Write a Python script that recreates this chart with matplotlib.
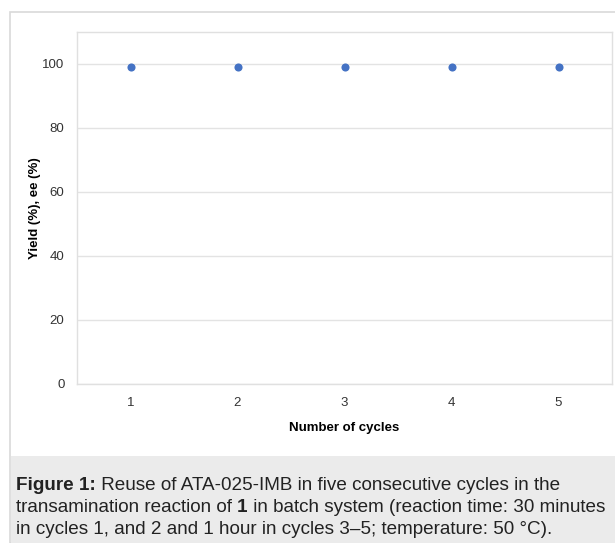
import matplotlib
matplotlib.use("Agg")
import matplotlib.pyplot as plt
from matplotlib.patches import Rectangle

cycles = [1, 2, 3, 4, 5]
yield_ee = [99, 99, 99, 99, 99]
y_ticks = [0, 20, 40, 60, 80, 100]
x_label = "Number of cycles"
y_label = "Yield (%), ee (%)"
caption_lines = [
    [("Figure 1:", True), (" Reuse of ATA-025-IMB in five consecutive cycles in the", False)],
    [("transamination reaction of ", False), ("1", True), (" in batch system (reaction time: 30 minutes", False)],
    [("in cycles 1, and 2 and 1 hour in cycles 3\u20135; temperature: 50 \u00b0C).", False)],
]

plt.rcParams['font.family'] = ['Liberation Sans', 'DejaVu Sans']

W, H = 615, 543
fig = plt.figure(figsize=(W / 100, H / 100), dpi=100)

def fx(px):
    return px / W

def fy(py):
    return 1 - py / H

# outer frame
fig.patches.append(Rectangle((fx(10), 0), 1 - fx(10) + 0.01, fy(12), transform=fig.transFigure,
                             facecolor='white', edgecolor='#d9d9d9', lw=1.2, zorder=0))
# caption background
fig.patches.append(Rectangle((fx(10.5), 0), 1 - fx(10.5), fy(456), transform=fig.transFigure,
                             facecolor='#ebebeb', edgecolor='none', zorder=1))

ax = fig.add_axes([fx(77), fy(384), fx(612) - fx(77), fy(32) - fy(384)])
ax.set_zorder(2)
ax.scatter(cycles, yield_ee, s=34, color='#4472C4', zorder=3, linewidths=0)
ax.set_xlim(0.5, 5.5)
ax.set_ylim(0, 110)
ax.set_yticks(y_ticks)
ax.set_xticks(cycles)
ax.grid(axis='y', color='#e3e3e3', lw=1)
ax.set_axisbelow(True)
for s in ax.spines.values():
    s.set_color('#e0e0e0')
    s.set_linewidth(1)
ax.tick_params(length=0, labelsize=9.5, colors='#333333')
ax.tick_params(axis='x', pad=9)
ax.tick_params(axis='y', pad=9)
ax.set_xlabel(x_label, fontsize=9.5, fontweight='bold', labelpad=10)
ax.set_ylabel(y_label, fontsize=9.5, fontweight='bold', labelpad=1)

# caption
line_y = [486, 508, 530]
fig.canvas.draw()
r = fig.canvas.get_renderer()
for parts, py in zip(caption_lines, line_y):
    x = fx(16)
    for txt, bold in parts:
        t = fig.text(x, fy(py), txt, fontsize=13.6, fontweight='bold' if bold else 'normal',
                     va='center', ha='left', color='#222222', zorder=5)
        bb = t.get_window_extent(renderer=r)
        x += bb.width / W

fig.savefig("out.png", dpi=100)
